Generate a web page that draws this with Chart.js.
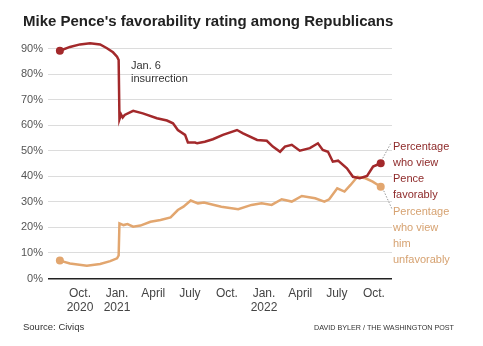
<!DOCTYPE html>
<html>
<head>
<meta charset="utf-8">
<script src="https://cdn.jsdelivr.net/npm/chart.js@4"></script>
<style>
  html, body { margin: 0; padding: 0; background: #fff; }
  canvas { display: block; }
</style>
</head>
<body>
<canvas id="chart" width="483" height="346"></canvas>
<script>
// favorable (red) readings
const favDates = ["2020-08-12","2020-09-06","2020-10-01","2020-10-26","2020-11-20","2020-12-07","2020-12-22",
  "2021-01-01","2021-01-05","2021-01-07","2021-01-11","2021-01-15","2021-01-20","2021-02-10","2021-03-06",
  "2021-04-10","2021-05-05","2021-05-20","2021-06-01","2021-06-19","2021-06-26","2021-07-14","2021-07-19",
  "2021-08-07","2021-08-27","2021-09-21","2021-10-26","2021-11-10","2021-12-15","2022-01-08","2022-01-23",
  "2022-02-10","2022-02-22","2022-03-11","2022-03-31","2022-04-25","2022-05-15","2022-05-27","2022-06-09",
  "2022-06-21","2022-07-04","2022-07-26","2022-08-10","2022-08-27","2022-09-14","2022-09-29","2022-10-18"];
const favValues = [89.1,90.6,91.6,92.0,91.6,90.1,88.5,
  86.8,85.5,62.3,64.2,63.0,64.0,65.6,64.6,
  62.7,61.8,60.7,58.1,56.2,53.2,53.2,52.9,
  53.5,54.5,56.2,58.1,56.8,54.2,53.9,51.6,
  49.6,51.6,52.3,50.0,51.0,52.9,50.3,49.6,
  45.7,46.1,43.1,39.8,39.2,40.1,43.8,45.1];

// unfavorable (tan) readings
const unfavDates = ["2020-08-12","2020-09-06","2020-10-18","2020-11-20","2020-12-15","2021-01-01","2021-01-05",
  "2021-01-07","2021-01-17","2021-01-27","2021-02-10","2021-02-28","2021-03-25","2021-04-19","2021-05-14",
  "2021-06-01","2021-06-15","2021-07-03","2021-07-21","2021-08-05","2021-09-17","2021-10-29","2021-12-01",
  "2021-12-26","2022-01-20","2022-02-14","2022-03-11","2022-04-05","2022-05-08","2022-05-31","2022-06-12",
  "2022-07-02","2022-07-20","2022-08-04","2022-08-21","2022-09-10","2022-09-28","2022-10-18"];
const unfavValues = [7.0,5.9,5.0,5.7,6.8,7.9,9.0,
  21.6,20.9,21.3,20.3,20.7,22.2,22.9,23.9,
  26.8,28.1,30.5,29.4,29.7,28.1,27.1,28.8,
  29.4,28.8,31.0,30.1,32.3,31.4,30.1,31.0,
  35.3,34.0,36.6,39.8,39.2,37.9,35.9];

const xTickDates = ["2020-10-01","2021-01-01","2021-04-01","2021-07-01","2021-10-01",
  "2022-01-01","2022-04-01","2022-07-01","2022-10-01"];
const xTickLabels = [["Oct.","2020"],["Jan.","2021"],["April"],["July"],["Oct."],
  ["Jan.","2022"],["April"],["July"],["Oct."]];
const yTicks = [0,10,20,30,40,50,60,70,80,90];

const RED = "#a3292b";
const TAN = "#e2a66f";
const FONT = "'Liberation Sans', Arial, sans-serif";

function dayOf(s) {
  const p = s.split("-");
  return (Date.UTC(+p[0], +p[1] - 1, +p[2]) - Date.UTC(2020, 9, 1)) / 864e5;
}
function toPoints(dates, vals) {
  return dates.map((d, i) => ({ x: dayOf(d), y: vals[i] }));
}
function endDots(ctx) {
  const n = ctx.dataset.data.length;
  return (ctx.dataIndex === 0 || ctx.dataIndex === n - 1) ? 4 : 0;
}

const textPlugin = {
  id: "texts",
  afterDatasetsDraw(chart) {
    const c = chart.ctx;
    c.save();
    // leader lines from the end dots to the labels
    const fm = chart.getDatasetMeta(0).data;
    const um = chart.getDatasetMeta(1).data;
    const fEnd = fm[fm.length - 1], uEnd = um[um.length - 1];
    c.strokeStyle = "#999";
    c.lineWidth = 1;
    c.setLineDash([1.5, 1.5]);
    c.beginPath();
    c.moveTo(fEnd.x + 2, fEnd.y - 5);
    c.lineTo(391, 143);
    c.moveTo(uEnd.x + 3, uEnd.y + 4);
    c.lineTo(392, 209);
    c.stroke();
    c.setLineDash([]);
    c.restore();
  },
  afterDraw(chart) {
    const c = chart.ctx;
    c.save();
    c.textBaseline = "middle";
    c.textAlign = "left";
    c.fillStyle = "#222";
    c.font = "bold 15px " + FONT;
    c.fillText("Mike Pence's favorability rating among Republicans", 23, 22);

    c.font = "11px " + FONT;
    c.fillStyle = "#333";
    c.fillText("Jan. 6", 131, 66);
    c.fillText("insurrection", 131, 79);

    c.fillStyle = "#8e2a2a";
    ["Percentage", "who view", "Pence", "favorably"].forEach((t, i) => c.fillText(t, 393, 147 + i * 16));
    c.fillStyle = "#d6a271";
    ["Percentage", "who view", "him", "unfavorably"].forEach((t, i) => c.fillText(t, 393, 212 + i * 16));

    c.fillStyle = "#333";
    c.font = "9.5px " + FONT;
    c.fillText("Source: Civiqs", 23, 327);
    c.textAlign = "right";
    c.font = "7.2px " + FONT;
    c.fillText("DAVID BYLER / THE WASHINGTON POST", 454, 328);
    c.restore();
  }
};

new Chart(document.getElementById("chart"), {
  type: "line",
  data: {
    datasets: [
      {
        label: "Favorable",
        data: toPoints(favDates, favValues),
        borderColor: RED,
        backgroundColor: RED,
        borderWidth: 2.5,
        pointRadius: endDots,
        pointBorderWidth: 0,
        tension: 0
      },
      {
        label: "Unfavorable",
        data: toPoints(unfavDates, unfavValues),
        borderColor: TAN,
        backgroundColor: TAN,
        borderWidth: 2.5,
        pointRadius: endDots,
        pointBorderWidth: 0,
        tension: 0
      }
    ]
  },
  options: {
    responsive: false,
    animation: false,
    devicePixelRatio: 1,
    layout: { padding: { left: 0, top: 35.7, right: 91, bottom: 27.5 } },
    plugins: { legend: { display: false }, tooltip: { enabled: false } },
    scales: {
      x: {
        type: "linear",
        min: -79.5,
        max: 775,
        grid: { display: false },
        border: { display: false },
        afterBuildTicks: (s) => { s.ticks = xTickDates.map(d => ({ value: dayOf(d) })); },
        afterFit: (s) => { s.height = 40; },
        ticks: {
          autoSkip: false,
          maxRotation: 0,
          padding: 1,
          color: "#444",
          font: { family: FONT, size: 12, lineHeight: 1.1 },
          callback: (v, i) => xTickLabels[i]
        }
      },
      y: {
        min: 0,
        max: 95,
        afterBuildTicks: (s) => { s.ticks = yTicks.map(v => ({ value: v })); },
        afterFit: (s) => { s.width = 48; },
        border: { display: false },
        grid: {
          drawTicks: false,
          color: (ctx) => ctx.tick && ctx.tick.value === 0 ? "#222" : "#dcdcdc",
          lineWidth: (ctx) => ctx.tick && ctx.tick.value === 0 ? 1.5 : 1
        },
        ticks: {
          padding: 5,
          color: "#555",
          font: { family: FONT, size: 11 },
          callback: (v) => v + "%"
        }
      }
    }
  },
  plugins: [textPlugin]
});
</script>
</body>
</html>
